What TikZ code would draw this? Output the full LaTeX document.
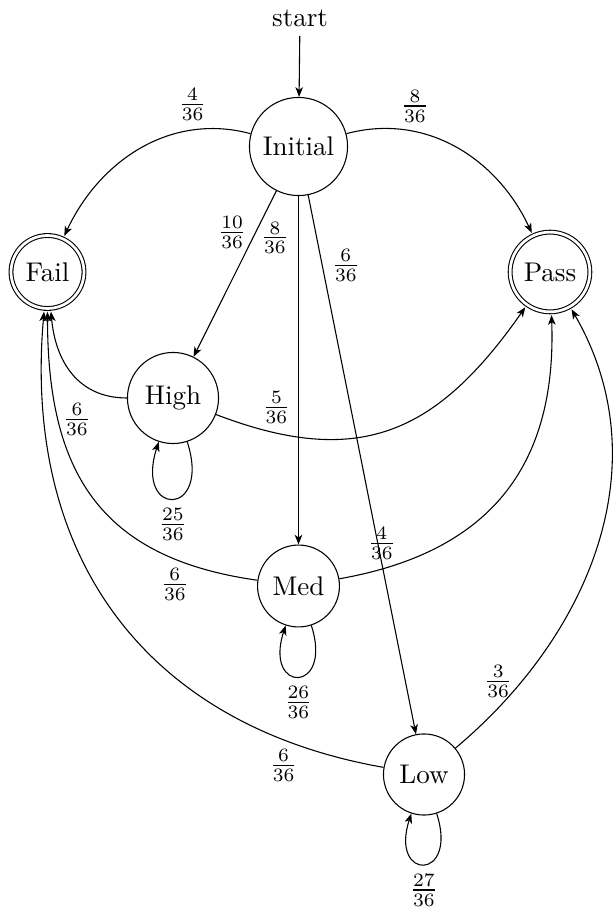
\documentclass[tikz,border=0pt]{standalone}
\usetikzlibrary{arrows.meta}
\begin{document}
\begin{tikzpicture}[x=0.37pt,y=0.37pt,
  state/.style={circle,draw,line width=0.4pt,inner sep=0pt},
  accept/.style={state,double,double distance=1pt,outer sep=1.2pt},
  edge/.style={-{Stealth[length=3.6pt,width=2.8pt,inset=1pt]},line width=0.4pt},
  selfloop/.style={out=-72,in=-108,looseness=7.2},
  lbl/.style={inner sep=3.33pt}]
\useasboundingbox (0,0) rectangle (613,910);

\node[anchor=south,inner sep=3.33pt] (start) at (300,874) {start};
\node[state,minimum size=36.3pt] (Initial) at (298.5,763.5) {Initial};
\node[accept,minimum size=27pt] (Fail) at (47.5,638) {Fail};
\node[accept,minimum size=29.5pt] (Pass) at (550,638) {Pass};
\node[state,minimum size=33.7pt] (High) at (173,512) {High};
\node[state,minimum size=30.3pt] (Med) at (298.5,324) {Med};
\node[state,minimum size=30pt] (Low) at (424,135.5) {Low};

\draw[edge] (start) -- (Initial);
\draw[edge] (Initial) to[out=165,in=65] node[lbl,pos=0.25,above] (l1) {$\frac{4}{36}$} (Fail);
\draw[edge] (Initial) to[out=15,in=115] node[lbl,pos=0.3,above] (l2) {$\frac{8}{36}$} (Pass);
\draw[edge] (Initial) -- node[lbl,pos=0.25,left] (l3) {$\frac{10}{36}$} (High);
\draw[edge] (Initial) -- node[lbl,pos=0.12,left] (l4) {$\frac{8}{36}$} (Med);
\draw[edge] (Initial) -- node[lbl,pos=0.13,right] (l5) {$\frac{6}{36}$} (Low);

\draw[edge] (High) to[out=180,in=-85,looseness=1.1] node[lbl,pos=0.2,below left] (l6) {$\frac{6}{36}$} (Fail);
\draw[edge] (High) to[out=-21,in=-125,looseness=1.2] node[lbl,pos=0.15,above] (l7) {$\frac{5}{36}$} (Pass);
\draw[edge] (High) to[selfloop] node[lbl,pos=0.5,below] (l8) {$\frac{25}{36}$} (High);

\draw[edge] (Med) to[out=172,in=-90,looseness=1.2] node[lbl,pos=0.2,below] (l9) {$\frac{6}{36}$} (Fail);
\draw[edge] (Med) to[out=10,in=-88,looseness=1.15] node[lbl,pos=0.1,above] (l10) {$\frac{4}{36}$} (Pass);
\draw[edge] (Med) to[selfloop] node[lbl,pos=0.5,below] (l11) {$\frac{26}{36}$} (Med);

\draw[edge] (Low) to[out=170,in=-95,looseness=1.1] node[lbl,pos=0.15,below] (l12) {$\frac{6}{36}$} (Fail);
\draw[edge] (Low) to[out=40,in=-60] node[lbl,pos=0.18,left] (l13) {$\frac{3}{36}$} (Pass);
\draw[edge] (Low) to[selfloop] node[lbl,pos=0.5,below] (l14) {$\frac{27}{36}$} (Low);
\end{tikzpicture}
\end{document}
